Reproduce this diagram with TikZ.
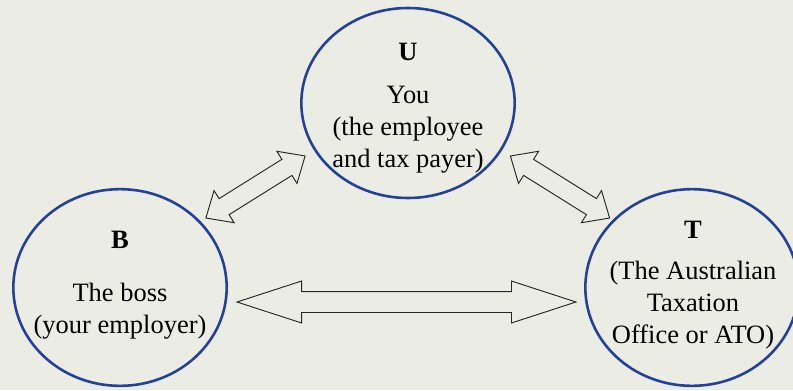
\documentclass[tikz,border=0pt]{standalone}
\usepackage{fontspec}
\setmainfont{Liberation Serif}
\usetikzlibrary{shapes.geometric, shapes.arrows}
\definecolor{bgpanel}{RGB}{235,236,227}
\definecolor{ringblue}{RGB}{35,64,154}
\newcommand{\partyfont}{\fontsize{22.6}{27.3}\selectfont}
\tikzstyle{party} = [draw=ringblue, line width=2.2pt, ellipse,
    minimum width=6.4cm, minimum height=5.9cm, inner sep=0pt]
\tikzstyle{tag} = [font=\partyfont\bfseries, anchor=base, inner sep=0pt]
\tikzstyle{words} = [font=\partyfont, align=center, anchor=base, inner sep=0pt]
\tikzstyle{link} = [draw=black!85, line width=0.8pt, double arrow,
    inner xsep=0pt]

\begin{document}
\begin{tikzpicture}[x=0.03cm, y=-0.03cm]
    \fill [bgpanel] (0,0) rectangle (793,390);
    \useasboundingbox (0,0) rectangle (793,390);

    \node [party, minimum height=5.7cm] (u) at (408,103) {};
    \node [party] (b) at (120,287.5) {};
    \node [party] (t) at (692,287.5) {};

    % base = last line
    \node [tag] (utag) at (408,60) {U};
    \node [words] (utext) at (408,167) {You \\ (the employee \\ and tax payer)};

    \node [tag] (btag) at (120,248.5) {B};
    \node [words] (btext) at (120,333) {The boss \\ (your employer)};

    \node [tag] (ttag) at (693,238) {T};
    \node [words] (ttext) at (693,343) {(The Australian \\ Taxation \\ Office or ATO)};

    \node [link, minimum height=10.17cm, inner ysep=0.3cm,
        double arrow head extend=0.315cm, double arrow tip angle=36] (bt) at (406.5,302) {};
    \node [link, rotate=32, minimum height=3.51cm, inner ysep=0.27cm,
        double arrow head extend=0.285cm, double arrow tip angle=83] (ub) at (255.5,187) {};
    \node [link, rotate=-32, minimum height=3.51cm, inner ysep=0.27cm,
        double arrow head extend=0.285cm, double arrow tip angle=83] (ut) at (560,187) {};
\end{tikzpicture}
\end{document}
